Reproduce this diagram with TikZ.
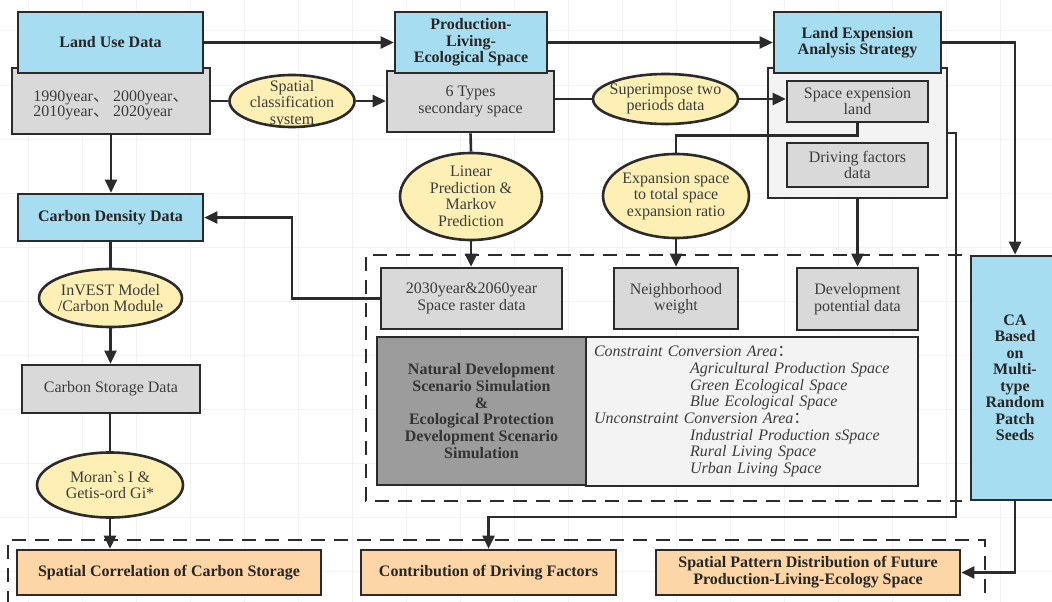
\documentclass[tikz,border=0pt]{standalone}
\usepackage{fontspec}
\setmainfont{Liberation Serif}
\newfontfamily\cjk{Noto Sans CJK SC}
\newfontfamily\rawserif{Liberation Serif}
\usetikzlibrary{arrows.meta,shapes.geometric}
\definecolor{bluef}{HTML}{A6DDF0}
\definecolor{grayf}{HTML}{D9D9D9}
\definecolor{yelf}{HTML}{FEF0B5}
\definecolor{lightf}{HTML}{F3F3F3}
\definecolor{darkf}{HTML}{9C9C9C}
\definecolor{orangef}{HTML}{FCD6A6}
\definecolor{linec}{HTML}{2B2B2B}
\definecolor{txt}{HTML}{3C3C3C}
\definecolor{gridc}{HTML}{F2F2F2}
\newcommand{\cjkcomma}{{\cjk\smash{、}}}
\begin{document}
\begin{tikzpicture}[x=1pt,y=-1pt,
  base/.style={draw=linec, line width=2.6pt, inner sep=0pt, align=center, text=txt,
    font=\fontsize{16}{16.5}\selectfont},
  bluebox/.style={base, fill=bluef, text=black!85, font=\fontsize{16}{16.5}\selectfont\bfseries},
  graybox/.style={base, fill=grayf},
  outerbox/.style={base, fill=lightf},
  darkbox/.style={base, fill=darkf, text=black!80, font=\fontsize{16}{16.7}\selectfont\bfseries},
  lightbox/.style={base, fill=lightf, font=\fontsize{16}{16.7}\selectfont\itshape},
  orangebox/.style={base, fill=orangef, text=black!85, font=\fontsize{16}{17}\selectfont\bfseries},
  ell/.style={base, ellipse, fill=yelf},
  elltext/.style={inner sep=0pt, align=center, text=txt, font=\fontsize{16}{16.5}\selectfont},
  conn/.style={draw=linec, line width=2.6pt},
  arr/.style={conn, -{Triangle[length=13pt,width=12pt]}},
  dashbox/.style={draw=linec, line width=2.6pt, dash pattern=on 14pt off 9pt}
]
\useasboundingbox (0,0) rectangle (1052,602);
\fill[white] (0,0) rectangle (1052,602);
\foreach \g in {28,82,...,1052} \draw[gridc, line width=1pt] (\g,0) -- (\g,602);
\foreach \g in {31,85,...,602} \draw[gridc, line width=1pt] (0,\g) -- (1052,\g);

% dashed groups
\draw[dashbox] (962,255) -- (366,255) -- (366,501) -- (962,501);
\draw[dashbox] (8,605) -- (8,540) -- (985,540) -- (985,605);

% top row
\node[graybox, minimum width=198, minimum height=66,
  label={[elltext, align=left, yshift=-4.5pt, font=\fontsize{16}{15.5}\selectfont]center:{1990year\cjkcomma\ 2000year\cjkcomma\\2010year\cjkcomma\ 2020year}}] (years) at (111,101) {};
\node[bluebox, minimum width=185, minimum height=61] (lud) at (110.5,42.5) {Land Use Data};

\node[graybox, minimum width=167, minimum height=61] (six) at (470.5,101.5) {6 Types\\secondary space};
\node[bluebox, minimum width=152, minimum height=61] (ple) at (471,42.5) {Production-\\Living-\\Ecological Space};

\node[outerbox, minimum width=179, minimum height=130] (outer) at (857.5,133) {};
\node[bluebox, minimum width=167, minimum height=61] (leas) at (857.5,42.5) {Land Expension\\Analysis Strategy};
\node[graybox, minimum width=141, minimum height=41] (sel) at (857.5,101.5) {Space expension\\land};
\node[graybox, minimum width=141, minimum height=44] (dfd) at (857.5,165) {Driving factors\\data};

\node[ell, minimum width=125, minimum height=52,
  label={[elltext, yshift=-3pt]center:{Spatial\\classification\\system}}] (sc) at (292,101) {};
\node[ell, minimum width=145, minimum height=50,
  label={[elltext]center:{Superimpose two\\periods data}}] (sup) at (665.5,99) {};

% second row
\node[ell, minimum width=142, minimum height=87,
  label={[elltext]center:{Linear\\Prediction \&\\Markov\\Prediction}}] (lp) at (471,196.5) {};
\node[ell, minimum width=146, minimum height=84,
  label={[elltext]center:{Expansion space\\to total space\\expansion ratio}}] (exp) at (676,196) {};

% left column
\node[bluebox, minimum width=185, minimum height=47] (cdd) at (110.5,217.5) {Carbon Density Data};
\node[ell, minimum width=143, minimum height=58,
  label={[elltext]center:{InVEST Model\\/Carbon Module}}] (invest) at (110.5,298) {};
\node[graybox, minimum width=178, minimum height=48] (csd) at (111,389) {Carbon Storage Data};
\node[ell, minimum width=146, minimum height=65,
  label={[elltext]center:{Moran{\rawserif `}s I \&\\Getis-ord Gi*}}] (moran) at (110,485) {};

% middle group
\node[graybox, minimum width=181, minimum height=61] (r2030) at (471.5,298.5) {2030year\&2060year\\Space raster data};
\node[graybox, minimum width=124, minimum height=61] (nw) at (676,298.5) {Neighborhood\\weight};
\node[graybox, minimum width=121, minimum height=62] (dpd) at (857.5,299) {Development\\potential data};
\node[darkbox, minimum width=209, minimum height=148] (dark) at (481.5,411)
  {Natural Development\\Scenario Simulation\\\&\\Ecological Protection\\Development Scenario\\Simulation};
\node[lightbox, minimum width=332, minimum height=149, text width=316, align=left] (light) at (752,411.5)
  {Constraint Conversion Area{\cjk ：}\\
   \hspace*{96pt}Agricultural Production Space\\
   \hspace*{96pt}Green Ecological Space\\
   \hspace*{96pt}Blue Ecological Space\\
   Unconstraint Conversion Area{\cjk ：}\\
   \hspace*{96pt}Industrial Production sSpace\\
   \hspace*{96pt}Rural Living Space\\
   \hspace*{96pt}Urban Living Space};

% CA
\node[bluebox, minimum width=88, minimum height=244] (ca) at (1015,378)
  {CA\\Based\\on\\Multi-\\type\\Random\\Patch\\Seeds};

% bottom row
\node[orangebox, minimum width=304, minimum height=45] (scs) at (169,572.5) {Spatial Correlation of Carbon Storage};
\node[orangebox, minimum width=255, minimum height=45] (cdf) at (488.5,572.5) {Contribution of Driving Factors};
\node[orangebox, minimum width=304, minimum height=45] (spd) at (808,572.5) {Spatial Pattern Distribution of Future\\Production-Living-Ecology Space};

% connectors
\draw[arr] (lud.east) -- (ple.west);
\draw[arr] (ple.east) -- (leas.west);
\draw[conn] (years.east) -- (sc.west);
\draw[arr] (sc.east) -- (sc.east -| six.west);
\draw[conn] (six.east |- sup.west) -- (sup.west);
\draw[arr] (sup.east) -- (sup.east -| sel.west);
\coordinate (caIn) at (ca.north);
\draw[arr] (leas.east) -| (caIn);
\draw[arr] (ca.south) |- (spd.east);
\draw[conn] (sel.south) -- ++(0,12) -| (exp.north);
\coordinate (bendA) at (956,517);
\draw[arr] (outer.east) -| (bendA) -| (cdf.north);
\draw[arr] (outer.south) -- (dpd.north);
\draw[conn] (six.south) -- (lp.north);
\draw[arr] (lp.south) -- (lp.south |- r2030.north);
\draw[arr] (exp.south) -- (nw.north);
\coordinate (bendB) at (292,298.5);
\draw[arr] (r2030.west) -- (bendB) |- (cdd.east);
\draw[arr] (years.south) -- (years.south |- cdd.north);
\draw[conn] (cdd.south) -- (invest.north);
\draw[arr] (invest.south) -- (invest.south |- csd.north);
\draw[conn] (csd.south) -- (csd.south -| moran.north) -- (moran.north);
\draw[arr] (moran.south) -- (moran.south |- scs.north);
\end{tikzpicture}
\end{document}
